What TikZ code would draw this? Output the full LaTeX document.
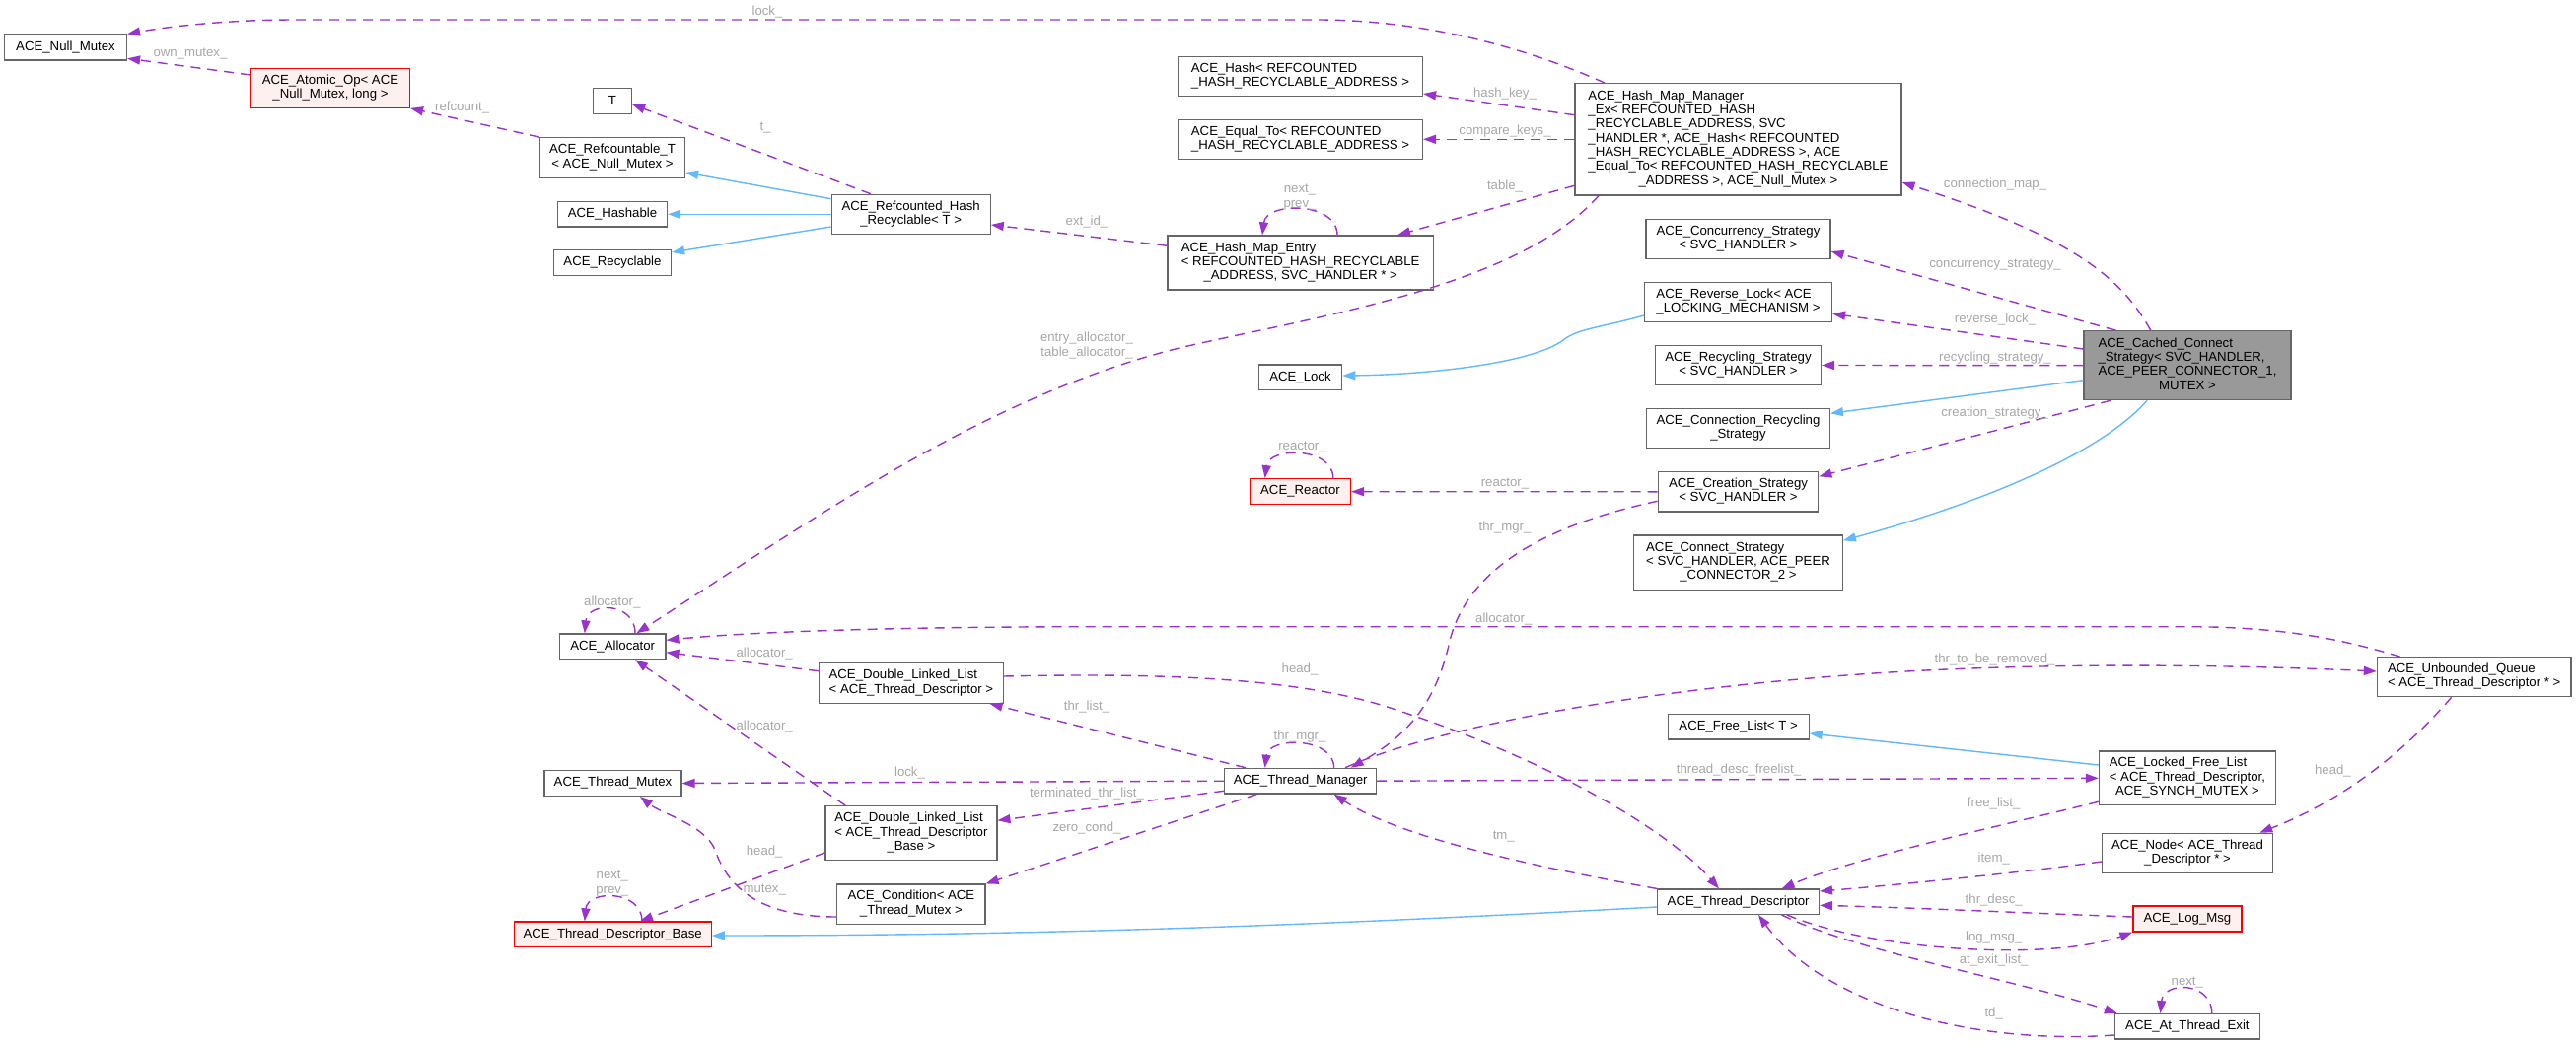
\documentclass[tikz,border=0pt]{standalone}
\usepackage{fontspec}
\setmainfont{Liberation Sans}
\usetikzlibrary{arrows.meta}
\definecolor{edgepurple}{HTML}{9A32CD}
\definecolor{edgeblue}{HTML}{63B8FF}
\definecolor{nodegray}{HTML}{666666}
\definecolor{lblgray}{HTML}{A8A8A8}
\definecolor{redfill}{HTML}{FFF0F0}
\definecolor{rootfill}{HTML}{999999}
\newcommand\nfont{\fontsize{13.2}{14.3}\selectfont}
\newcommand\dxl[2]{\begin{tabular}{@{}l@{}}#1\\\multicolumn{1}{@{}c@{}}{#2}\end{tabular}}
\tikzset{
  box/.style={draw=nodegray, fill=white, line width=1.2pt, inner sep=0pt, font=\nfont, align=center},
  redbox/.style={box, draw=red, fill=redfill},
  rootbox/.style={box, fill=rootfill},
  use/.style={draw=edgepurple, dash pattern=on 10pt off 7pt, line width=1.4pt, -{Triangle[length=13pt,width=9pt]}},
  inh/.style={draw=edgeblue, line width=1.4pt, -{Triangle[length=13pt,width=9pt]}},
  lbl/.style={font=\nfont, text=lblgray, inner sep=0pt, align=center}
}
\begin{document}
\begin{tikzpicture}[x=1pt,y=-1pt]
\fill[white] (0,0) rectangle (2612,1059);
\useasboundingbox (0,0) rectangle (2612,1059);

% ---------- nodes ----------
\node[box,minimum width=124pt,minimum height=26pt] (nullmutex) at (66.5,48) {ACE\_Null\_Mutex};
\node[redbox,minimum width=161pt,minimum height=40pt] (atomic) at (335,89.3) {\dxl{ACE\_Atomic\_Op< ACE}{\_Null\_Mutex, long >}};
\node[box,minimum width=39pt,minimum height=26pt] (T) at (621,102.3) {T};
\node[box,minimum width=147pt,minimum height=40.6pt] (refcountable) at (621,160) {\dxl{ACE\_Refcountable\_T}{< ACE\_Null\_Mutex >}};
\node[box,minimum width=111pt,minimum height=25.5pt] (hashable) at (621,217.3) {ACE\_Hashable};
\node[box,minimum width=119pt,minimum height=25.6pt] (recyclable) at (621,266.5) {ACE\_Recyclable};
\node[box,minimum width=161pt,minimum height=40pt] (rhr) at (923.7,217.3) {\dxl{ACE\_Refcounted\_Hash}{\_Recyclable< T >}};
\node[box,minimum width=248pt,minimum height=40pt] (hash) at (1318.5,77.3) {\dxl{ACE\_Hash< REFCOUNTED}{\_HASH\_RECYCLABLE\_ADDRESS >}};
\node[box,minimum width=248pt,minimum height=40pt] (equal) at (1318.5,141.3) {\dxl{ACE\_Equal\_To< REFCOUNTED}{\_HASH\_RECYCLABLE\_ADDRESS >}};
\node[box,minimum width=269.5pt,minimum height=55pt] (hme) at (1318.7,266.5) {\dxl{ACE\_Hash\_Map\_Entry\\< REFCOUNTED\_HASH\_RECYCLABLE}{\_ADDRESS, SVC\_HANDLER * >}};
\node[box,minimum width=331pt,minimum height=113.3pt] (mgr) at (1762.5,141.3) {\dxl{ACE\_Hash\_Map\_Manager\\\_Ex< REFCOUNTED\_HASH\\\_RECYCLABLE\_ADDRESS, SVC\\\_HANDLER *, ACE\_Hash< REFCOUNTED\\\_HASH\_RECYCLABLE\_ADDRESS >, ACE\\\_Equal\_To< REFCOUNTED\_HASH\_RECYCLABLE}{\_ADDRESS >, ACE\_Null\_Mutex >}};
\node[box,minimum width=187pt,minimum height=40.3pt] (conc) at (1762.5,242.5) {\dxl{ACE\_Concurrency\_Strategy}{< SVC\_HANDLER >}};
\node[box,minimum width=190pt,minimum height=40.3pt] (revlock) at (1762.5,306.5) {\dxl{ACE\_Reverse\_Lock< ACE}{\_LOCKING\_MECHANISM >}};
\node[box,minimum width=168pt,minimum height=40.3pt] (recyc) at (1762.5,370.5) {\dxl{ACE\_Recycling\_Strategy}{< SVC\_HANDLER >}};
\node[rootbox,minimum width=210pt,minimum height=70pt] (cached) at (2218,370.7) {\dxl{ACE\_Cached\_Connect\\\_Strategy< SVC\_HANDLER,\\\multicolumn{1}{@{}c@{}}{ACE\_PEER\_CONNECTOR\_1,}}{MUTEX >}};
\node[box,minimum width=84.4pt,minimum height=25.3pt] (lock) at (1318.5,382.7) {ACE\_Lock};
\node[box,minimum width=185.7pt,minimum height=40pt] (connrec) at (1762.5,434.7) {\dxl{ACE\_Connection\_Recycling}{\_Strategy}};
\node[redbox,minimum width=102pt,minimum height=26pt] (reactor) at (1318.5,498.7) {ACE\_Reactor};
\node[box,minimum width=162.5pt,minimum height=40.3pt] (creation) at (1762.5,498.8) {\dxl{ACE\_Creation\_Strategy}{< SVC\_HANDLER >}};
\node[box,minimum width=211.6pt,minimum height=55.3pt] (connect) at (1762.5,570.7) {\dxl{ACE\_Connect\_Strategy\\< SVC\_HANDLER, ACE\_PEER}{\_CONNECTOR\_2 >}};
\node[box,minimum width=107.4pt,minimum height=25.7pt] (allocator) at (621.2,655.8) {ACE\_Allocator};
\node[box,minimum width=186.6pt,minimum height=40.6pt] (dlltd) at (923.9,693) {\dxl{ACE\_Double\_Linked\_List}{< ACE\_Thread\_Descriptor >}};
\node[box,minimum width=139pt,minimum height=25.7pt] (thrmutex) at (621.5,794.5) {ACE\_Thread\_Mutex};
\node[box,minimum width=174pt,minimum height=55pt] (dlltdb) at (923.9,845.2) {\dxl{ACE\_Double\_Linked\_List\\< ACE\_Thread\_Descriptor}{\_Base >}};
\node[box,minimum width=150.2pt,minimum height=40.3pt] (cond) at (923.9,917.2) {\dxl{ACE\_Condition< ACE}{\_Thread\_Mutex >}};
\node[redbox,minimum width=200pt,minimum height=25.7pt] (tdbase) at (621.2,947.8) {ACE\_Thread\_Descriptor\_Base};
\node[box,minimum width=153.8pt,minimum height=25.7pt] (thrmgr) at (1318.7,792.2) {ACE\_Thread\_Manager};
\node[box,minimum width=143pt,minimum height=25.3pt] (freelist) at (1762.6,737.3) {ACE\_Free\_List< T >};
\node[box,minimum width=163.6pt,minimum height=25.3pt] (td) at (1762.6,914.7) {ACE\_Thread\_Descriptor};
\node[box,minimum width=196.6pt,minimum height=40pt] (unbounded) at (2508.7,686.7) {\dxl{ACE\_Unbounded\_Queue}{< ACE\_Thread\_Descriptor * >}};
\node[box,minimum width=179pt,minimum height=54.7pt] (lfl) at (2217.9,789.3) {\dxl{ACE\_Locked\_Free\_List\\< ACE\_Thread\_Descriptor,}{ACE\_SYNCH\_MUTEX >}};
\node[box,minimum width=173pt,minimum height=40pt] (acenode) at (2218,865.3) {\dxl{ACE\_Node< ACE\_Thread}{\_Descriptor * >}};
\node[redbox,minimum width=110pt,minimum height=26pt] (logmsg) at (2217.9,932) {ACE\_Log\_Msg};
\node[box,minimum width=147pt,minimum height=25.3pt] (ate) at (2217.9,1041.3) {ACE\_At\_Thread\_Exit};

% ---------- usage (dashed) ----------
\draw[use] ([shift={(-135.5,0)}]mgr.north) .. controls (1540,45) and (1440,21) .. (1340,20) -- (300,20) .. controls (230,20) and (170,27) .. (nullmutex.north east);
\draw[use] ([shift={(0,-13.3)}]atomic.west) -- ([shift={(0,11.3)}]nullmutex.east);
\draw[use] (refcountable.north west) -- (atomic.south east);
\draw[use] ([shift={(-40.7,0)}]rhr.north) -- ([shift={(0,3.7)}]T.east);
\draw[use] ([shift={(0,-17.2)}]hme.west) -- ([shift={(0,10.7)}]rhr.east);
\draw[use] ([shift={(37.3,0)}]hme.north) .. controls +(0,-34) and +(4,-34) .. ([shift={(-38.7,0)}]hme.north);
\draw[use] ([shift={(0,-24.6)}]mgr.west) -- ([shift={(0,17.7)}]hash.east);
\draw[use] (mgr.west) -- (equal.east);
\draw[use] ([shift={(0,47)}]mgr.west) -- ([shift={(98.3,0)}]hme.north);
\draw[use] ([shift={(-141.5,0)}]mgr.south) .. controls (1540,290) and (1340,320) .. (1200,352) .. controls (1000,400) and (820,530) .. ([shift={(24.2,0)}]allocator.north);
\draw[use] ([shift={(-37.3,0)}]cached.north) .. controls (2150,280) and (2100,240) .. ([shift={(0,43.7)}]mgr.east);
\draw[use] ([shift={(33,0)}]cached.north west) -- ([shift={(0,12.5)}]conc.east);
\draw[use] ([shift={(0,-16.7)}]cached.west) -- ([shift={(0,11.8)}]revlock.east);
\draw[use] (cached.west) -- (recyc.east);
\draw[use] ([shift={(27.6,0)}]cached.south west) -- ([shift={(0,-15.5)}]creation.east);
\draw[use] ([shift={(33.3,0)}]reactor.north) .. controls +(0,-32) and +(4,-32) .. ([shift={(-35.9,0)}]reactor.north);
\draw[use] (creation.west) -- (reactor.east);
\draw[use] ([shift={(0,9.5)}]creation.west) .. controls (1580,530) and (1490,570) .. (1470,650) .. controls (1455,720) and (1420,750) .. ([shift={(51,0)}]thrmgr.north);
\draw[use] ([shift={(22.8,0)}]allocator.north) .. controls +(0,-32) and +(3,-32) .. ([shift={(-28.4,0)}]allocator.north);
\draw[use] ([shift={(-75.1,0)}]unbounded.north) .. controls (2380,650) and (2320,636) .. (2220,635.7) -- (1100,635.7) .. controls (900,636) and (760,641) .. ([shift={(0,-6.5)}]allocator.east);
\draw[use] ([shift={(0,-12.3)}]dlltd.west) -- ([shift={(0,5.9)}]allocator.east);
\draw[use] ([shift={(-66.7,0)}]dlltdb.north) -- ([shift={(22.8,0)}]allocator.south);
\draw[use] (thrmgr.west) -- (thrmutex.east);
\draw[use] ([shift={(21.8,0)}]thrmgr.north west) -- ([shift={(-14.2,0)}]dlltd.south east);
\draw[use] ([shift={(0,10.1)}]thrmgr.west) -- ([shift={(0,-12.9)}]dlltdb.east);
\draw[use] ([shift={(33.2,0)}]thrmgr.south west) -- (cond.north east);
\draw[use] ([shift={(0,12.8)}]cond.west) .. controls (770,930) and (738,900) .. (725,862) .. controls (715,837) and (670,825) .. ([shift={(27.5,0)}]thrmutex.south);
\draw[use] ([shift={(0,19.8)}]dlltdb.west) -- ([shift={(27.8,0)}]tdbase.north);
\draw[use] ([shift={(29.8,0)}]tdbase.north) .. controls +(0,-32) and +(3,-32) .. ([shift={(-28.4,0)}]tdbase.north);
\draw[use] ([shift={(33.9,0)}]thrmgr.north) .. controls +(0,-31.5) and +(4,-31.5) .. ([shift={(-36.2,0)}]thrmgr.north);
\draw[use] (td.north west) .. controls (1560,880) and (1420,850) .. ([shift={(33.9,0)}]thrmgr.south);
\draw[use] ([shift={(0,-7)}]dlltd.east) .. controls (1150,683) and (1300,685) .. (1400,715) .. controls (1560,765) and (1690,840) .. ([shift={(-19.6,0)}]td.north);
\draw[use] ([shift={(45.3,0)}]thrmgr.north) .. controls (1450,740) and (1650,700) .. (1900,683) .. controls (2100,670) and (2300,676) .. ([shift={(0,-5.7)}]unbounded.west);
\draw[use] (thrmgr.east) -- (lfl.west);
\draw[use] ([shift={(0,24)}]lfl.west) .. controls (2040,835) and (1880,870) .. ([shift={(44,0)}]td.north);
\draw[use] ([shift={(0,8.7)}]acenode.west) .. controls (2050,885) and (1920,898) .. ([shift={(0,-10.7)}]td.east);
\draw[use] ([shift={(-23,0)}]unbounded.south) .. controls (2440,760) and (2380,810) .. ([shift={(-13.9,0)}]acenode.north east);
\draw[use] ([shift={(0,-2)}]logmsg.west) .. controls (2050,926) and (1950,921) .. ([shift={(0,3.6)}]td.east);
\draw[use] ([shift={(49.2,0)}]td.south) .. controls (1900,965) and (2080,975) .. (logmsg.south west);
\draw[use] ([shift={(44,0)}]td.south) .. controls (1880,965) and (2050,995) .. ([shift={(3.1,0)}]ate.north west);
\draw[use] ([shift={(0,8.7)}]ate.west) .. controls (2000,1060) and (1850,1020) .. ([shift={(20.4,0)}]td.south);
\draw[use] ([shift={(24.9,0)}]ate.north) .. controls +(0,-32.9) and +(3,-32.9) .. ([shift={(-27.4,0)}]ate.north);

% ---------- inheritance (solid blue) ----------
\draw[inh] ([shift={(0,-15.6)}]rhr.west) -- ([shift={(0,15)}]refcountable.east);
\draw[inh] (rhr.west) -- (hashable.east);
\draw[inh] ([shift={(0,12.7)}]rhr.west) -- ([shift={(0,-10.5)}]recyclable.east);
\draw[inh] ([shift={(0,13.5)}]revlock.west) .. controls (1625,332) and (1600,333) .. (1585,345) .. controls (1555,368) and (1450,380) .. ([shift={(0,-1.7)}]lock.east);
\draw[inh] ([shift={(0,15)}]cached.west) -- ([shift={(0,-15.4)}]connrec.east);
\draw[inh] ([shift={(-41,0)}]cached.south) .. controls (2130,460) and (2010,510) .. ([shift={(0,-22.4)}]connect.east);
\draw[inh] ([shift={(0,-13.3)}]lfl.west) -- ([shift={(0,6.7)}]freelist.east);
\draw[inh] ([shift={(0,5.3)}]td.west) .. controls (1400,935) and (1100,949) .. ([shift={(0,1.2)}]tdbase.east);

% ---------- edge labels ----------
\node[lbl] (L1) at (778,12) {lock\_};
\node[lbl] (L2) at (193,54.3) {own\_mutex\_};
\node[lbl] (L3) at (468.7,109) {refcount\_};
\node[lbl] (L4) at (776,130) {t\_};
\node[lbl] (L5) at (1102,225) {ext\_id\_};
\node[lbl] (L6) at (1318,200) {next\_\\prev\_};
\node[lbl] (L7) at (1526,95) {hash\_key\_};
\node[lbl] (L8) at (1526,133.3) {compare\_keys\_};
\node[lbl] (L9) at (1526,189) {table\_};
\node[lbl] (L10) at (1102,350.5) {entry\_allocator\_\\table\_allocator\_};
\node[lbl] (L11) at (2023,186.7) {connection\_map\_};
\node[lbl] (L12) at (2023,268.3) {concurrency\_strategy\_};
\node[lbl] (L13) at (2023,324) {reverse\_lock\_};
\node[lbl] (L14) at (2023,362.7) {recycling\_strategy\_};
\node[lbl] (L15) at (2022.6,419) {creation\_strategy\_};
\node[lbl] (L16) at (1320.5,454) {reactor\_};
\node[lbl] (L17) at (1526,490.7) {reactor\_};
\node[lbl] (L18) at (1526,535) {thr\_mgr\_};
\node[lbl] (L19) at (620.8,611) {allocator\_};
\node[lbl] (L20) at (1524.8,627.7) {allocator\_};
\node[lbl] (L21) at (775.2,662.7) {allocator\_};
\node[lbl] (L22) at (775.2,737) {allocator\_};
\node[lbl] (L23) at (1318,679) {head\_};
\node[lbl] (L24) at (2022.6,669) {thr\_to\_be\_removed\_};
\node[lbl] (L25) at (1102,716.7) {thr\_list\_};
\node[lbl] (L26) at (1318,746.7) {thr\_mgr\_};
\node[lbl] (L27) at (922.5,783.7) {lock\_};
\node[lbl] (L28) at (1763,781) {thread\_desc\_freelist\_};
\node[lbl] (L29) at (1102,805) {terminated\_thr\_list\_};
\node[lbl] (L30) at (1102,840) {zero\_cond\_};
\node[lbl] (L31) at (1524.8,848.3) {tm\_};
\node[lbl] (L32) at (775.2,864) {head\_};
\node[lbl] (L33) at (620.8,896) {next\_\\prev\_};
\node[lbl] (L34) at (775.2,902.7) {mutex\_};
\node[lbl] (L35) at (2365.4,782.3) {head\_};
\node[lbl] (L36) at (2021.7,815) {free\_list\_};
\node[lbl] (L37) at (2021.7,870.7) {item\_};
\node[lbl] (L38) at (2021.7,912.7) {thr\_desc\_};
\node[lbl] (L39) at (2021.7,950.7) {log\_msg\_};
\node[lbl] (L40) at (2021.7,974.3) {at\_exit\_list\_};
\node[lbl] (L41) at (2217.8,996.7) {next\_};
\node[lbl] (L42) at (2021.7,1028.3) {td\_};
\end{tikzpicture}
\end{document}
